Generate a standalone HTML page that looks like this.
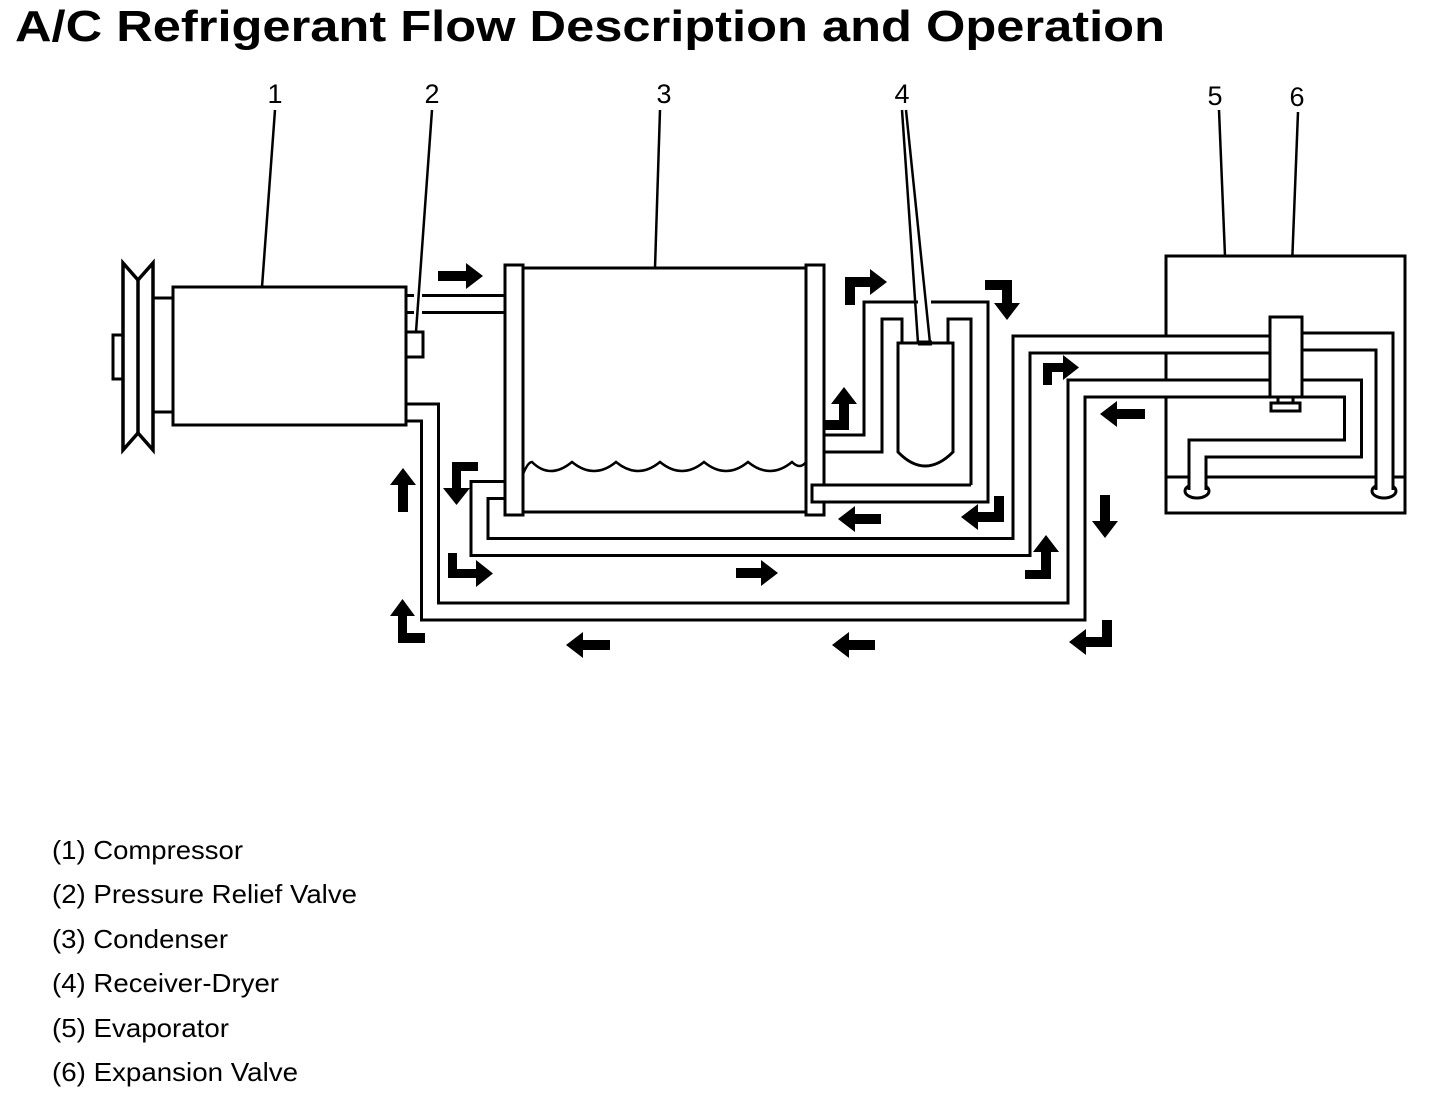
<!DOCTYPE html>
<html><head><meta charset="utf-8"><style>
html,body{margin:0;padding:0;background:#fff;}
svg{display:block;}
text{font-family:"Liberation Sans",Arial,sans-serif;fill:#000;}
</style></head><body>
<svg width="1456" height="1102" viewBox="0 0 1456 1102" xmlns="http://www.w3.org/2000/svg">
<rect width="1456" height="1102" fill="#fff"/>
<text x="15" y="41" font-size="44" font-weight="bold" textLength="1150" lengthAdjust="spacingAndGlyphs">A/C Refrigerant Flow Description and Operation</text>

<g font-size="27" text-anchor="middle">
<text x="275" y="103">1</text><text x="432" y="103">2</text><text x="664" y="103">3</text>
<text x="902" y="103">4</text><text x="1215" y="105">5</text><text x="1297" y="106">6</text>
</g>

<g stroke="#000" stroke-width="2.5" fill="none">
<line x1="275" y1="110" x2="262" y2="287"/>
<line x1="432" y1="110" x2="416" y2="332"/>
<line x1="660" y1="110" x2="655" y2="268"/>
<line x1="902" y1="110" x2="918" y2="343"/>
<line x1="906" y1="110" x2="930" y2="343"/>
<line x1="1219" y1="110" x2="1225" y2="256"/>
<line x1="1298" y1="112" x2="1290" y2="317"/>
</g>

<!-- evaporator box -->
<g stroke="#000" stroke-width="3" fill="none">
<rect x="1166" y="256" width="239" height="257" fill="#fff"/>
<line x1="1166" y1="477" x2="1405" y2="477"/>
<ellipse cx="1197" cy="491" rx="12" ry="7" fill="#fff"/>
<ellipse cx="1384" cy="491" rx="12" ry="7" fill="#fff"/>
</g>

<!-- tubes -->
<g fill="none" stroke-linejoin="miter" stroke-linecap="butt">
<g stroke="#000" stroke-width="20">
<path d="M422,304 H505"/>
<path d="M505,490 H479.5 V547 H1021.5 V344.5 H1270"/>
<path d="M406,412.5 H430 V611.5 H1076.5 V388.5 H1353 V448.5 H1197.5 V490"/>
<path d="M1302,341.5 H1384.5 V490"/>
</g>
<g stroke="#fff" stroke-width="14">
<path d="M420,304 H507"/>
<path d="M507,490 H479.5 V547 H1021.5 V344.5 H1272"/>
<path d="M404,412.5 H430 V611.5 H1076.5 V388.5 H1353 V448.5 H1197.5 V492"/>
<path d="M1300,341.5 H1384.5 V492"/>
</g>
</g>
<g stroke="#000" stroke-width="3">
<line x1="406" y1="295.5" x2="414" y2="295.5"/><line x1="406" y1="312.5" x2="414" y2="312.5"/>
</g>

<g stroke="#000" stroke-width="3" fill="#fff">
<!-- valve -->
<rect x="1270" y="317" width="32" height="80"/>
<rect x="1271" y="403" width="29" height="8"/>
<line x1="1278" y1="397" x2="1278" y2="403"/><line x1="1293" y1="397" x2="1293" y2="403"/>

<!-- pulley -->
<rect x="113" y="335" width="10" height="44"/>
<rect x="153" y="298" width="20" height="114"/>
<path d="M123,263 V450 L138,433 L153,450 V263 L138,280 Z" stroke-width="3.5"/>
<line x1="138" y1="280" x2="138" y2="433" stroke-width="3.5"/>
<!-- compressor -->
<rect x="173" y="287" width="233" height="138"/>
<rect x="406" y="332" width="17" height="25"/>

<!-- condenser -->
<line x1="523" y1="268" x2="806" y2="268"/>
<line x1="523" y1="512" x2="806" y2="512"/>
<rect x="505" y="265" width="18" height="250"/>
<rect x="806" y="265" width="18" height="250"/>
</g>
<path d="M523,474 Q528,462 532,462 Q550,480 572,462 Q594,480 616,462 Q638,480 660,462 Q682,480 704,462 Q726,480 748,462 Q770,480 792,462 Q800,470 806,462" stroke="#000" stroke-width="2.5" fill="none"/>

<!-- receiver -->
<rect x="812" y="485" width="176" height="17" fill="#fff"/>
<g stroke="#000" stroke-width="3" fill="none">
<path d="M824,435 H864 V302 H918"/>
<path d="M931,302 H988 V502"/>
<path d="M824,452 H882 V319 H902 V343"/>
<path d="M948,343 V319 H971 V485"/>
<path d="M898,343 H953 V452 Q925,480 898,452 Z" fill="#fff"/>
<line x1="918" y1="343" x2="932" y2="343" stroke-width="5"/>
<path d="M971,485 H812 V502 H989.5"/>
</g>

<!-- arrows -->
<g fill="#000">
<polygon points="438,271 466,271 466,263 483,276 466,289 466,281 438,281"/>
<polygon points="736,568 761,568 761,560 778,573 761,586 761,578 736,578"/>
<polygon points="610,640 583,640 583,632 566,645 583,658 583,650 610,650"/>
<polygon points="875,640 849,640 849,632 832,645 849,658 849,650 875,650"/>
<polygon points="881,514 855,514 855,506 838,519 855,532 855,524 881,524"/>
<polygon points="1145,409 1117,409 1117,401 1100,414 1117,427 1117,419 1145,419"/>
<polygon points="398,512 398,485 390,485 403,468 416,485 408,485 408,512"/>
<polygon points="1100,495 1110,495 1110,521 1118,521 1105,538 1092,521 1100,521"/>
<polygon points="845,305 855,305 855,287 870,287 870,295 887,282 870,269 870,277 845,277"/>
<polygon points="985,280 1012,280 1012,303 1020,303 1007,320 994,303 1002,303 1002,290 985,290"/>
<polygon points="824,420 839,420 839,404 831,404 844,387 857,404 849,404 849,430 824,430"/>
<polygon points="478,462 452,462 452,488 443,488 456.5,505 470,488 461,488 461,471 478,471"/>
<polygon points="448,553 457,553 457,569 476,569 476,560 493,573.5 476,587 476,578 448,578"/>
<polygon points="398,643 425,643 425,633 407,633 407,616 415,616 402.5,599 390,616 398,616"/>
<polygon points="1102,620 1112,620 1112,647 1086,647 1086,655 1069,642 1086,629 1086,637 1102,637"/>
<polygon points="994,496 1004,496 1004,522 978,522 978,530 961,517 978,504 978,512 994,512"/>
<polygon points="1025,570 1041,570 1041,552 1033,552 1046,535 1059,552 1051,552 1051,579 1025,579"/>
<polygon points="1043,385 1052,385 1052,372 1063,372 1063,380 1079,367.5 1063,355 1063,363 1043,363"/>
</g>

<g font-size="26">
<text x="52" y="859" textLength="191" lengthAdjust="spacingAndGlyphs">(1) Compressor</text>
<text x="52" y="903" textLength="305" lengthAdjust="spacingAndGlyphs">(2) Pressure Relief Valve</text>
<text x="52" y="948" textLength="176" lengthAdjust="spacingAndGlyphs">(3) Condenser</text>
<text x="52" y="992" textLength="227" lengthAdjust="spacingAndGlyphs">(4) Receiver-Dryer</text>
<text x="52" y="1037" textLength="177" lengthAdjust="spacingAndGlyphs">(5) Evaporator</text>
<text x="52" y="1081" textLength="246" lengthAdjust="spacingAndGlyphs">(6) Expansion Valve</text>
</g>
</svg>
</body></html>
